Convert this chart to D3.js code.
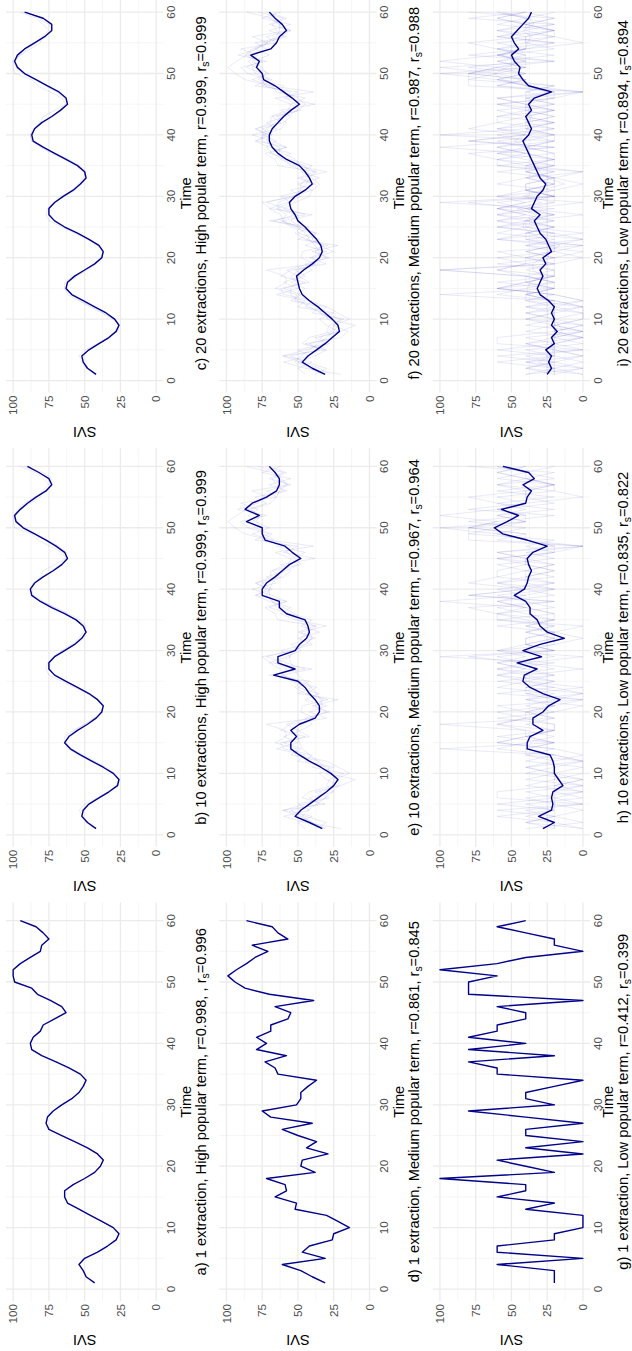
<!DOCTYPE html>
<html><head><meta charset="utf-8">
<script src="https://cdn.jsdelivr.net/npm/d3@7"></script>
<style>body{margin:0;background:#fff}svg{display:block}</style>
</head><body><svg id="c" width="632" height="1351"></svg>
<script>
// time points 1..60
const times = d3.range(1, 61);
const timeTicks = [0, 10, 20, 30, 40, 50, 60];
const timeMinor = [5, 15, 25, 35, 45, 55];
const sviTicks = [0, 25, 50, 75, 100];
const sviMinor = [12.5, 37.5, 62.5, 87.5];

// main (dark) series, one per panel
const svA = [43,49,51,54,50,41,34,28,26,30,38,46,54,62,64,64,58,50,43,39,37,41,48,57,66,75,77,76,72,66,59,54,51,49,53,61,70,80,87,88,86,81,79,71,63,66,74,83,87,99,100,100,95,88,81,80,75,79,84,95];
const svB = [42,48,52,51,47,40,33,27,26,30,37,45,53,60,64,61,55,48,42,38,37,41,47,55,63,71,75,75,71,64,57,52,49,51,56,64,73,81,87,88,85,79,72,66,62,64,70,77,85,93,98,99,95,90,84,77,73,75,82,90];
const svC = [42,48,51,52,47,40,33,28,26,29,35,43,51,59,63,62,57,50,43,38,37,40,47,55,64,71,75,75,71,65,58,53,49,50,55,63,71,79,86,87,85,80,73,67,62,63,68,76,84,92,97,99,97,92,85,78,73,73,79,92];
const svD = [31,40,48,61,31,47,42,26,25,14,22,30,52,51,66,58,59,72,38,48,47,29,44,37,50,61,40,69,75,51,48,48,43,37,64,66,73,58,79,72,79,69,69,57,55,66,39,70,87,94,99,93,86,80,71,82,57,64,68,86];
const svE = [33,42,52,48,42,36,30,25,22,27,34,42,49,55,55,51,55,49,38,35,35,38,42,45,50,67,52,64,64,52,49,44,42,43,45,58,63,63,75,75,72,66,61,56,48,54,59,73,75,75,86,77,87,82,72,65,63,63,66,70];
const svF = [31,40,47,43,37,31,26,21,22,26,31,36,42,47,49,50,51,46,40,35,33,34,37,41,45,50,52,55,56,52,45,40,42,45,49,58,64,68,70,70,68,64,60,55,49,54,60,66,74,75,79,77,83,69,65,63,58,61,66,70];
const svG = [20,20,20,60,0,60,60,20,20,0,0,0,40,20,60,40,40,100,20,40,60,0,40,0,40,40,0,40,80,20,40,40,20,0,60,60,80,20,80,40,80,60,60,40,40,60,0,80,80,80,60,100,60,40,0,20,20,40,60,40];
const svH = [28,20,31,22,21,22,21,14,17,20,20,21,23,39,39,37,28,35,35,28,24,16,28,37,42,41,32,46,29,42,30,13,25,30,32,37,37,40,48,41,39,38,36,38,39,35,25,39,56,62,53,45,57,40,39,36,42,34,38,56];
const svI = [25,22,24,22,26,20,22,18,22,20,22,20,24,30,32,30,28,30,26,28,22,24,26,30,32,34,30,36,34,32,28,26,30,32,34,36,38,40,42,38,36,38,40,36,38,34,22,38,42,45,44,48,50,45,48,50,46,42,38,36];

// faint individual extractions (estimated)
const medX1 = [20,45,60,42,50,30,38,20,10,30,28,50,45,65,50,60,48,40,45,28,40,22,50,40,55,60,62,70,58,48,55,38,48,30,52,62,55,70,80,68,75,60,55,62,38,60,50,80,70,85,90,72,92,78,75,58,70,55,75,62];
const medX2 = [38,30,45,55,35,42,25,30,28,18,40,35,55,48,60,45,62,55,30,42,30,45,35,50,42,70,45,58,72,55,40,50,35,48,40,55,70,58,68,82,65,72,58,50,55,45,65,68,82,70,80,85,78,90,65,72,55,70,60,78];
const medX3 = [45,50,40,60,45,28,35,22,30,35,25,45,40,60,62,42,50,58,42,30,38,32,45,52,48,62,58,65,55,62,45,40,50,38,48,52,60,68,72,70,80,62,68,48,52,58,55,75,68,80,82,75,85,72,80,60,65,68,58,72];
const medX4 = [28,35,50,38,30,45,20,15,25,20,35,30,42,50,45,55,45,52,35,40,25,35,40,38,48,55,50,60,52,42,40,35,40,45,55,60,68,72,65,75,62,58,65,50,45,50,62,60,78,72,75,82,70,80,70,62,55,62,70,65];
const lowX1 = [40,0,20,40,0,20,20,0,40,20,0,40,20,60,40,20,40,60,40,20,0,40,20,60,40,60,20,40,0,60,40,20,40,20,60,20,40,60,20,40,60,20,40,60,20,40,0,60,40,80,60,20,80,40,60,20,60,40,20,80];
const lowX2 = [20,40,20,0,20,40,0,20,0,40,20,0,20,40,20,60,20,40,20,40,20,0,60,20,60,20,40,60,20,40,20,0,20,60,20,40,60,20,80,40,20,60,40,20,60,20,40,20,80,60,40,60,40,60,20,60,20,40,60,40];
const lowX3 = [0,20,40,20,40,0,20,20,0,20,40,20,0,20,60,40,20,20,60,20,40,20,0,40,20,40,60,40,60,20,40,20,40,20,40,60,20,40,60,20,40,40,20,40,40,60,20,40,60,40,80,40,60,20,40,40,60,20,40,60];
const lowX4 = [20,20,60,20,20,20,40,0,20,20,20,20,40,40,20,40,20,60,40,40,20,20,40,40,20,60,40,60,40,60,20,20,20,40,20,20,40,60,40,60,20,40,40,20,40,20,20,40,40,80,40,40,60,40,40,40,20,40,40,60];
const lowX5 = [40,20,0,20,20,20,0,20,20,0,0,20,20,40,20,20,40,20,20,0,20,20,20,20,60,40,20,40,20,20,40,20,20,40,40,20,20,40,20,20,40,20,40,40,20,40,40,20,60,40,60,40,40,60,40,20,40,40,20,40];
const lowX6 = [0,40,20,20,60,20,0,40,20,20,40,0,20,100,20,40,20,20,40,60,20,40,0,20,40,20,60,20,100,20,40,40,20,40,20,60,40,100,40,20,60,40,20,40,60,20,0,40,60,100,40,60,20,60,80,40,20,60,40,20];
const lowX7 = [20,0,40,0,20,40,20,0,20,40,20,40,0,20,60,20,40,100,20,20,40,20,60,40,20,40,20,60,40,20,20,60,40,0,40,20,60,40,20,100,40,20,60,20,40,40,20,60,40,60,100,20,60,40,20,60,40,20,80,40];

const panels = [
  {col:0,row:2,main:svA,faint:[],t:['a) 1 extraction, High popular term, r=0.998, , r','=0.996']},
  {col:0,row:1,main:svB,faint:[svA,svC],t:['b) 10 extractions, High popular term, r=0.999, r','=0.999']},
  {col:0,row:0,main:svC,faint:[svA,svB],t:['c) 20 extractions, High popular term, r=0.999, r','=0.999']},
  {col:1,row:2,main:svD,faint:[],t:['d) 1 extraction, Medium popular term, r=0.861, r','=0.845']},
  {col:1,row:1,main:svE,faint:[svD,medX1,medX2,medX3,svF],t:['e) 10 extractions, Medium popular term, r=0.967, r','=0.964']},
  {col:1,row:0,main:svF,faint:[svD,medX1,medX2,medX3,medX4,svE],t:['f) 20 extractions, Medium popular term, r=0.987, r','=0.988']},
  {col:2,row:2,main:svG,faint:[],t:['g) 1 extraction, Low popular term, r=0.412, r','=0.399']},
  {col:2,row:1,main:svH,faint:[svG,lowX1,lowX2,lowX3,lowX4,lowX6],t:['h) 10 extractions, Low popular term, r=0.835, r','=0.822']},
  {col:2,row:0,main:svI,faint:[svG,lowX1,lowX2,lowX3,lowX4,lowX5,lowX6,lowX7,svH],t:['i) 20 extractions, Low popular term, r=0.894, r','=0.894']}
];

const colX = [6, 219.3, 432.8];
const titleY = [199.8, 199.8, 195.5];
const rowY = [392.5, 846.75, 1301];
const W = 398.5, H = 157.3;
const FONT = "'Liberation Sans', Arial, Helvetica, sans-serif";

const x = d3.scaleLinear().domain([-1.95, 62.95]).range([0, W]);
const y = d3.scaleLinear().domain([-5, 105]).range([H, 0]);
const line = d3.line().x((d, i) => x(times[i])).y(d => y(d));

const svg = d3.select('#c');

panels.forEach(p => {
  const g = svg.append('g')
    .attr('transform', `translate(${colX[p.col]},${rowY[p.row]}) rotate(-90)`);

  const grid = g.append('g');
  grid.selectAll('.vmin').data(timeMinor).join('line')
    .attr('x1', d => x(d)).attr('x2', d => x(d)).attr('y1', 0).attr('y2', H)
    .attr('stroke', '#f2f2f2').attr('stroke-width', 0.8);
  grid.selectAll('.hmin').data(sviMinor).join('line')
    .attr('y1', d => y(d)).attr('y2', d => y(d)).attr('x1', 0).attr('x2', W)
    .attr('stroke', '#f2f2f2').attr('stroke-width', 0.8);
  grid.selectAll('.vmaj').data(timeTicks).join('line')
    .attr('x1', d => x(d)).attr('x2', d => x(d)).attr('y1', 0).attr('y2', H)
    .attr('stroke', '#ebebeb').attr('stroke-width', 1.3);
  grid.selectAll('.hmaj').data(sviTicks).join('line')
    .attr('y1', d => y(d)).attr('y2', d => y(d)).attr('x1', 0).attr('x2', W)
    .attr('stroke', '#ebebeb').attr('stroke-width', 1.3);

  g.append('g').selectAll('path').data(p.faint).join('path')
    .attr('d', line).attr('fill', 'none')
    .attr('stroke', '#4b4bd0').attr('stroke-opacity', 0.15).attr('stroke-width', 0.8);

  g.append('path').datum(p.main).attr('d', line).attr('fill', 'none')
    .attr('stroke', '#00008b').attr('stroke-width', 1.4).attr('stroke-linejoin', 'round');

  g.append('g').selectAll('text').data(timeTicks).join('text')
    .attr('x', d => x(d)).attr('y', H + 3).attr('dy', '0.75em')
    .attr('text-anchor', 'middle').attr('font-family', FONT).attr('font-size', 11.73)
    .attr('fill', '#4d4d4d').text(d => d);
  g.append('g').selectAll('text').data(sviTicks).join('text')
    .attr('x', -3).attr('y', d => y(d)).attr('dy', '0.36em')
    .attr('text-anchor', 'end').attr('font-family', FONT).attr('font-size', 11.73)
    .attr('fill', '#4d4d4d').text(d => d);

  g.append('text').attr('transform', `translate(-34,${H / 2}) rotate(-90)`)
    .attr('text-anchor', 'middle').attr('font-family', FONT).attr('font-size', 14.67)
    .attr('fill', '#000').text('SVI');
  g.append('text').attr('x', W / 2).attr('y', titleY[p.col] - 15)
    .attr('text-anchor', 'middle').attr('font-family', FONT).attr('font-size', 14.67)
    .attr('fill', '#000').text('Time');
  const tt = g.append('text').attr('x', W / 2).attr('y', titleY[p.col])
    .attr('text-anchor', 'middle').attr('font-family', FONT).attr('font-size', 14.67)
    .attr('fill', '#000');
  tt.append('tspan').text(p.t[0]);
  tt.append('tspan').attr('font-size', 10.3).attr('dy', 3).text('s');
  tt.append('tspan').attr('dy', -3).text(p.t[1]);
});
</script></body></html>
